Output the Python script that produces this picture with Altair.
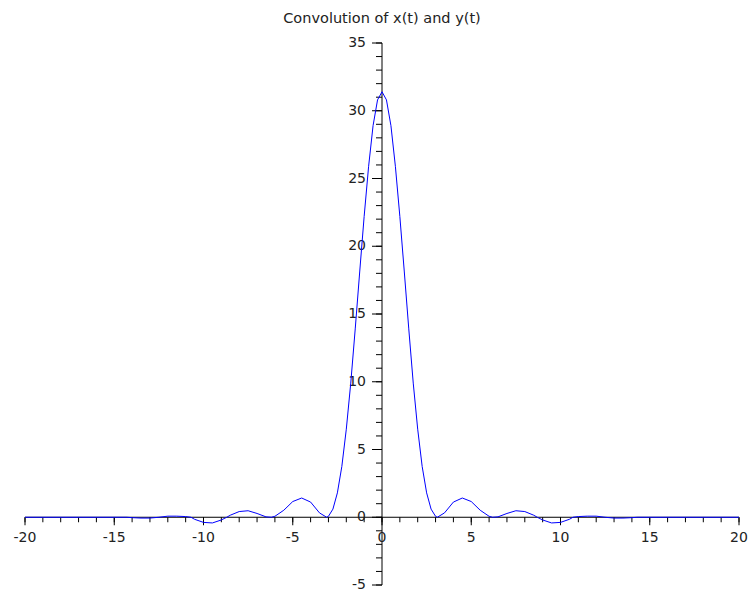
import altair as alt
import pandas as pd

# Curve samples
x_values = [-20, -14.3, -14, -13.5, -13, -12.5, -12, -11.5, -11, -10.7, -10.5, -10, -9.5, -9, -8.7,
            -8.5, -8, -7.5, -7, -6.5, -6.2, -6, -5.5, -5, -4.5, -4, -3.5, -3.1, -3, -2.75, -2.5,
            -2.25, -2, -1.75, -1.5, -1.25, -1, -0.75, -0.5, -0.25, 0,
            0.25, 0.5, 0.75, 1, 1.25, 1.5, 1.75, 2, 2.25, 2.5, 2.75, 3, 3.1, 3.5, 4, 4.5, 5, 5.5,
            6, 6.2, 6.5, 7, 7.5, 8, 8.5, 8.7, 9, 9.5, 10, 10.5, 10.7, 11, 11.5, 12, 12.5, 13,
            13.5, 14, 14.3, 20]
y_values = [0, 0, -0.03, -0.06, -0.06, 0, 0.08, 0.08, 0.05, 0, -0.15, -0.38, -0.42, -0.2, 0,
            0.15, 0.42, 0.48, 0.28, 0.03, 0, 0.07, 0.52, 1.16, 1.42, 1.12, 0.32, 0, 0.07, 0.6, 1.8,
            3.75, 6.5, 9.9, 13.9, 18.1, 22.2, 25.9, 28.9, 30.8, 31.4,
            30.8, 28.9, 25.9, 22.2, 18.1, 13.9, 9.9, 6.5, 3.75, 1.8, 0.6, 0.07, 0, 0.32, 1.12, 1.42, 1.16, 0.52,
            0.07, 0, 0.03, 0.28, 0.48, 0.42, 0.15, 0, -0.2, -0.42, -0.38, -0.15, 0, 0.05, 0.08, 0.08, 0, -0.06,
            -0.06, -0.03, 0, 0]

x_range = [-20, 20]
y_range = [-5, 35]
x_minor_ticks = list(range(-20, 21, 1))
x_major_ticks = [-20, -15, -10, -5, 0, 5, 10, 15, 20]
x_tick_labels = ["-20", "-15", "-10", "-5", "0", "5", "10", "15", "20"]
y_minor_ticks = list(range(-5, 36, 1))
y_major_ticks = [-5, 0, 5, 10, 15, 20, 25, 30, 35]
y_tick_labels = ["-5", "0", "5", "10", "15", "20", "25", "30", "35"]
title_text = "Convolution of x(t) and y(t)"

FONT = "DejaVu Sans"
TXT = "#222222"

xs = alt.Scale(domain=x_range, nice=False, zero=False)
ys = alt.Scale(domain=y_range, nice=False, zero=False)

curve_df = pd.DataFrame({"x": x_values, "y": y_values})
xaxis_df = pd.DataFrame({"x": [x_range[0]], "x2": [x_range[1]], "y": [0]})
yaxis_df = pd.DataFrame({"y": [y_range[0]], "y2": [y_range[1]], "x": [0]})
xminor_df = pd.DataFrame({"v": x_minor_ticks, "z": 0})
xmajor_df = pd.DataFrame({"v": x_major_ticks, "z": 0, "lab": x_tick_labels})
yminor_df = pd.DataFrame({"v": y_minor_ticks, "z": 0})
ymajor_df = pd.DataFrame({"v": y_major_ticks, "z": 0, "lab": y_tick_labels})

curve = alt.Chart(curve_df).mark_line(color="#0000ff", strokeWidth=1).encode(
    x=alt.X("x:Q", scale=xs, axis=None),
    y=alt.Y("y:Q", scale=ys, axis=None),
)

x_axis = alt.Chart(xaxis_df).mark_rule(color="black", strokeWidth=1).encode(
    x=alt.X("x:Q", scale=xs, axis=None), x2="x2:Q", y=alt.Y("y:Q", scale=ys, axis=None)
)
y_axis = alt.Chart(yaxis_df).mark_rule(color="black", strokeWidth=1).encode(
    y=alt.Y("y:Q", scale=ys, axis=None), y2="y2:Q", x=alt.X("x:Q", scale=xs, axis=None)
)

x_minor = alt.Chart(xminor_df).mark_rule(color="black", strokeWidth=1, y2Offset=5).encode(
    x=alt.X("v:Q", scale=xs, axis=None), y=alt.Y("z:Q", scale=ys, axis=None), y2="z:Q"
)
x_major = alt.Chart(xmajor_df).mark_rule(color="black", strokeWidth=1, y2Offset=8).encode(
    x=alt.X("v:Q", scale=xs, axis=None), y=alt.Y("z:Q", scale=ys, axis=None), y2="z:Q"
)
x_labels = alt.Chart(xmajor_df).mark_text(
    font=FONT, fontSize=14, color=TXT, baseline="middle", align="center", dy=21
).encode(x=alt.X("v:Q", scale=xs, axis=None), y=alt.Y("z:Q", scale=ys, axis=None), text="lab:N")

y_minor = alt.Chart(yminor_df).mark_rule(color="black", strokeWidth=1, x2Offset=-6).encode(
    y=alt.Y("v:Q", scale=ys, axis=None), x=alt.X("z:Q", scale=xs, axis=None), x2="z:Q"
)
y_major = alt.Chart(ymajor_df).mark_rule(color="black", strokeWidth=1, x2Offset=-10).encode(
    y=alt.Y("v:Q", scale=ys, axis=None), x=alt.X("z:Q", scale=xs, axis=None), x2="z:Q"
)
y_labels = alt.Chart(ymajor_df).mark_text(
    font=FONT, fontSize=14, color=TXT, baseline="middle", align="right", dx=-16
).encode(y=alt.Y("v:Q", scale=ys, axis=None), x=alt.X("z:Q", scale=xs, axis=None), text="lab:N")

chart = alt.layer(
    x_axis, y_axis, x_minor, x_major, y_minor, y_major, x_labels, y_labels, curve
).properties(
    width=714,
    height=542,
    title=alt.TitleParams(title_text, font=FONT, fontSize=14.5, fontWeight="normal",
                          color=TXT, anchor="middle", offset=10),
    autosize=alt.AutoSizeParams(type="none"),
    padding={"left": 17, "top": 35, "right": 9, "bottom": 6},
).configure_view(stroke=None)

chart.save("out.html", embed_options={"renderer": "svg", "actions": False})
